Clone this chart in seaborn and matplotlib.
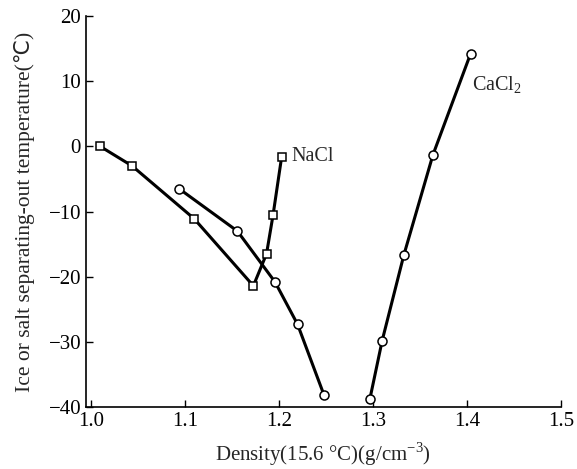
# Ice / salt separating-out temperature vs brine density (NaCl, CaCl2)
import pandas as pd
import matplotlib.pyplot as plt
import seaborn as sns

# NaCl: ice line running into the salt line (square markers)
nacl_density = [1.010, 1.044, 1.110, 1.173, 1.187, 1.194, 1.203]
nacl_temp = [0.0, -3.0, -11.1, -21.4, -16.5, -10.5, -1.7]

# CaCl2 ice line (circle markers)
cacl2_ice_density = [1.094, 1.156, 1.196, 1.220, 1.248]
cacl2_ice_temp = [-6.5, -13.0, -20.8, -27.3, -38.1]

# CaCl2 salt line (circle markers)
cacl2_density = [1.297, 1.310, 1.333, 1.364, 1.404]
cacl2_temp = [-38.7, -29.8, -16.7, -1.3, 14.2]

x_ticks = [1.0, 1.1, 1.2, 1.3, 1.4, 1.5]
y_ticks = [-40, -30, -20, -10, 0, 10, 20]

sns.set_style('ticks')
plt.rcParams['font.family'] = ['Liberation Serif', 'DejaVu Sans']
plt.rcParams['mathtext.fontset'] = 'custom'
plt.rcParams['mathtext.rm'] = 'Liberation Serif'
plt.rcParams['axes.unicode_minus'] = True

fig = plt.figure(figsize=(5.77, 4.69), dpi=100)
ax = fig.add_axes([0.149, 0.132, 0.823, 0.834])

nacl_df = pd.DataFrame({'density': nacl_density, 'temp': nacl_temp})
ice_df = pd.DataFrame({'density': cacl2_ice_density, 'temp': cacl2_ice_temp})
cacl2_df = pd.DataFrame({'density': cacl2_density, 'temp': cacl2_temp})

line_kw = dict(color='black', linewidth=2.2, sort=False, estimator=None,
               markerfacecolor='white', markeredgecolor='black', markeredgewidth=1.1)
sns.lineplot(data=nacl_df, x='density', y='temp', marker='s', markersize=5.5, ax=ax, **line_kw)
sns.lineplot(data=ice_df, x='density', y='temp', marker='o', markersize=6.5, ax=ax, **line_kw)
sns.lineplot(data=cacl2_df, x='density', y='temp', marker='o', markersize=6.5, ax=ax, **line_kw)

ax.text(1.214, -1.6, 'NaCl', fontsize=14.5, va='center', ha='left')
ax.text(1.406, 9.4, 'CaCl$_2$', fontsize=14.5, va='center', ha='left')

ax.set_xlim(0.995, 1.5)
ax.set_ylim(-40, 20)
ax.set_xticks(x_ticks)
ax.set_yticks(y_ticks)
ax.tick_params(direction='in', length=5, width=1, labelsize=15, colors='black')
sns.despine(ax=ax)
for side in ['left', 'bottom']:
    ax.spines[side].set_linewidth(1.2)
    ax.spines[side].set_color('black')

ax.set_xlabel('Density(15.6 °C)(g/cm$^{-3}$)', fontsize=15, labelpad=7)
ax.set_ylabel('Ice or salt separating-out temperature(℃)', fontsize=15.5, labelpad=10)

fig.savefig('out.png', dpi=100)
